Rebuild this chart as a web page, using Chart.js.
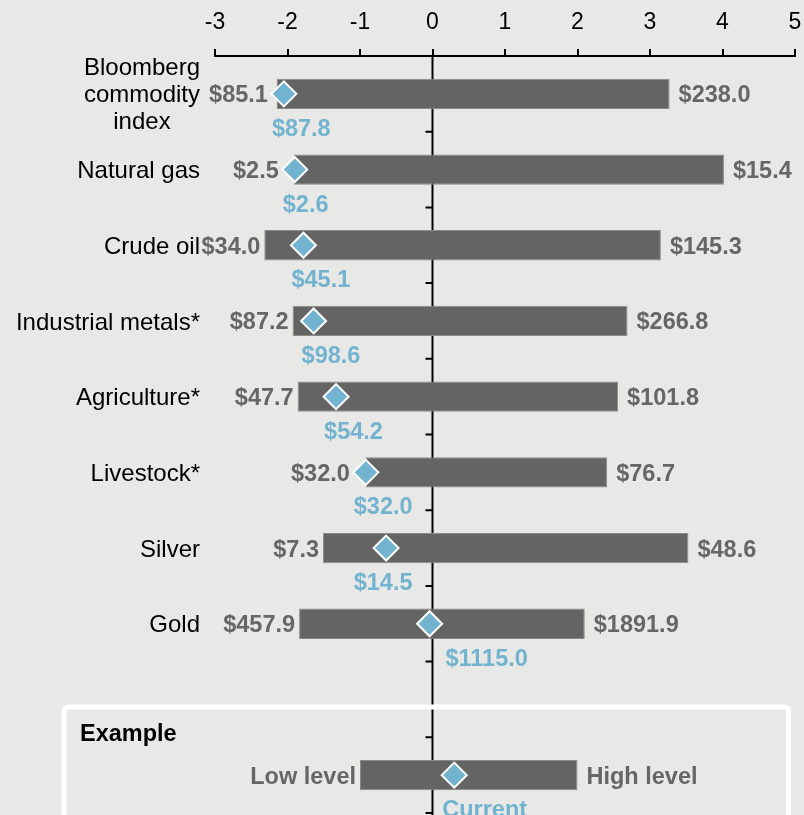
<!DOCTYPE html>
<html>
<head>
<meta charset="utf-8">
<script src="https://cdn.jsdelivr.net/npm/chart.js@4.4.1/dist/chart.umd.min.js"></script>
<style>
  html, body { margin: 0; padding: 0; background: #e8e8e6; }
  canvas { display: block; }
</style>
</head>
<body>
<canvas id="myChart" width="804" height="815"></canvas>
<script>
// rows: 8 commodities, a spacer row, then the "Example" key row
const categories = [['Bloomberg', 'commodity', 'index'], 'Natural gas', 'Crude oil', 'Industrial metals*', 'Agriculture*', 'Livestock*', 'Silver', 'Gold', '', 'Example'];
// z-scores
const lowZ = [-2.15, -1.91, -2.32, -1.93, -1.86, -0.92, -1.51, -1.84, null, -1.0];
const highZ = [3.27, 4.02, 3.15, 2.69, 2.56, 2.41, 3.53, 2.10, null, 2.0];
const currentZ = [-2.05, -1.90, -1.78, -1.64, -1.33, -0.92, -0.64, -0.04, null, 0.30];
// price labels
const lowLabels = ['$85.1', '$2.5', '$34.0', '$87.2', '$47.7', '$32.0', '$7.3', '$457.9', '', 'Low level'];
const highLabels = ['$238.0', '$15.4', '$145.3', '$266.8', '$101.8', '$76.7', '$48.6', '$1891.9', '', 'High level'];
const currentLabels = ['$87.8', '$2.6', '$45.1', '$98.6', '$54.2', '$32.0', '$14.5', '$1115.0', '', 'Current'];
const xTicks = [-3, -2, -1, 0, 1, 2, 3, 4, 5];

const FONT = "'Liberation Sans', Arial, sans-serif";
const GREY = '#666666';
const BLUE = '#72b3cf';
const BG = '#e8e8e6';
const EXAMPLE = categories.length - 1;
const TEXT_DY = 2; // middle baseline sits a bit high for digits/caps

const decorPlugin = {
  id: 'decor',
  beforeDraw(chart) {
    const ctx = chart.ctx;
    ctx.save();
    ctx.fillStyle = BG;
    ctx.fillRect(0, 0, chart.width, chart.height);
    ctx.restore();
  },
  beforeDatasetsDraw(chart) {
    const {ctx, chartArea, scales: {x, y}} = chart;
    const x0 = x.getPixelForValue(0);
    const half = (y.getPixelForValue(1) - y.getPixelForValue(0)) / 2;
    ctx.save();
    // zero line with small ticks between rows
    ctx.strokeStyle = '#000';
    ctx.lineWidth = 2;
    ctx.beginPath();
    ctx.moveTo(x0, chartArea.top);
    ctx.lineTo(x0, chart.height);
    for (let i = 0; i < categories.length; i++) {
      const yb = y.getPixelForValue(i) + half;
      ctx.moveTo(x0 - 7, yb);
      ctx.lineTo(x0, yb);
    }
    ctx.stroke();
    // example box
    const top = y.getPixelForValue(EXAMPLE - 1) + 7.5;
    ctx.strokeStyle = '#ffffff';
    ctx.lineWidth = 5;
    ctx.beginPath();
    ctx.roundRect(64, top, chartArea.right - 6.5 - 64, chart.height, 4);
    ctx.stroke();
    ctx.fillStyle = '#000';
    ctx.font = 'bold 23.5px ' + FONT;
    ctx.textAlign = 'left';
    ctx.textBaseline = 'middle';
    ctx.fillText(categories[EXAMPLE], 80, top + 25.5 + TEXT_DY);
    ctx.restore();
  },
  afterDatasetsDraw(chart) {
    const {ctx, chartArea, scales: {x, y}} = chart;
    const r = 12;
    const x0 = x.getPixelForValue(0);
    ctx.save();
    ctx.font = 'bold 23.5px ' + FONT;
    ctx.textBaseline = 'middle';
    lowZ.forEach((lo, i) => {
      if (lo === null) return;
      const yc = y.getPixelForValue(i) + TEXT_DY;
      const xc = x.getPixelForValue(currentZ[i]);
      const xl = Math.min(x.getPixelForValue(lo), xc - r);
      ctx.fillStyle = GREY;
      ctx.textAlign = 'right';
      ctx.fillText(lowLabels[i], xl - 4, yc);
      ctx.textAlign = 'left';
      ctx.fillText(highLabels[i], x.getPixelForValue(highZ[i]) + 9, yc);
      // current label sits under the diamond, kept clear of the zero line
      const w = ctx.measureText(currentLabels[i]).width;
      let lx = xc - 12;
      if (lx < x0 + 4 && lx + w > x0 - 4) {
        const toLeft = lx + w - (x0 - 20);
        const toRight = x0 + 13 - lx;
        lx = toLeft < toRight ? lx - toLeft : lx + toRight;
      }
      ctx.fillStyle = BLUE;
      ctx.fillText(currentLabels[i], lx, yc + 33.5);
    });
    // row names
    ctx.fillStyle = '#000';
    ctx.font = '24px ' + FONT;
    ctx.textAlign = 'center';
    const right = chartArea.left - 15;
    categories.forEach((c, i) => {
      if (i === EXAMPLE || !c) return;
      const lines = Array.isArray(c) ? c : [c];
      const w = Math.max(...lines.map(l => ctx.measureText(l).width));
      const yc = y.getPixelForValue(i) + TEXT_DY;
      lines.forEach((l, k) => {
        ctx.fillText(l, right - w / 2, yc + (k - (lines.length - 1) / 2) * 27);
      });
    });
    ctx.restore();
  }
};

const data = {
  labels: categories.map((c, i) => 'row' + i),
  datasets: [
    {
      type: 'line',
      data: currentZ,
      showLine: false,
      clip: false,
      pointStyle: 'rectRot',
      pointRadius: 12.5,
      pointHoverRadius: 12.5,
      pointBackgroundColor: BLUE,
      pointBorderColor: '#ffffff',
      pointBorderWidth: 2,
      order: 0
    },
    {
      type: 'bar',
      data: lowZ.map((lo, i) => lo === null ? null : [lo, highZ[i]]),
      backgroundColor: '#646464',
      borderColor: '#8a8a8a',
      borderWidth: 1,
      borderSkipped: false,
      categoryPercentage: 1,
      barPercentage: 0.4,
      order: 1
    }
  ]
};

const config = {
  type: 'bar',
  data: data,
  options: {
    indexAxis: 'y',
    responsive: false,
    animation: false,
    layout: { autoPadding: false, padding: { left: 215, right: 9, top: 0, bottom: 2 } },
    plugins: {
      legend: { display: false },
      tooltip: { enabled: false }
    },
    scales: {
      x: {
        type: 'linear',
        position: 'top',
        min: xTicks[0],
        max: xTicks[xTicks.length - 1],
        afterBuildTicks(scale) { scale.ticks = xTicks.map(v => ({value: v})); },
        afterFit(scale) {
          scale.height = 56;
          scale.paddingLeft = 0;
          scale.paddingRight = 0;
        },
        ticks: {
          color: '#000',
          font: { family: FONT, size: 23 },
          padding: 13,
          maxRotation: 0
        },
        grid: {
          drawOnChartArea: false,
          drawTicks: true,
          tickLength: 7,
          color: '#000',
          lineWidth: 2
        },
        border: { display: true, color: '#000', width: 2 }
      },
      y: {
        type: 'category',
        display: false,
        offset: true
      }
    }
  },
  plugins: [decorPlugin]
};

const ctx = document.getElementById('myChart').getContext('2d');
const chart = new Chart(ctx, config);
</script>
</body>
</html>
